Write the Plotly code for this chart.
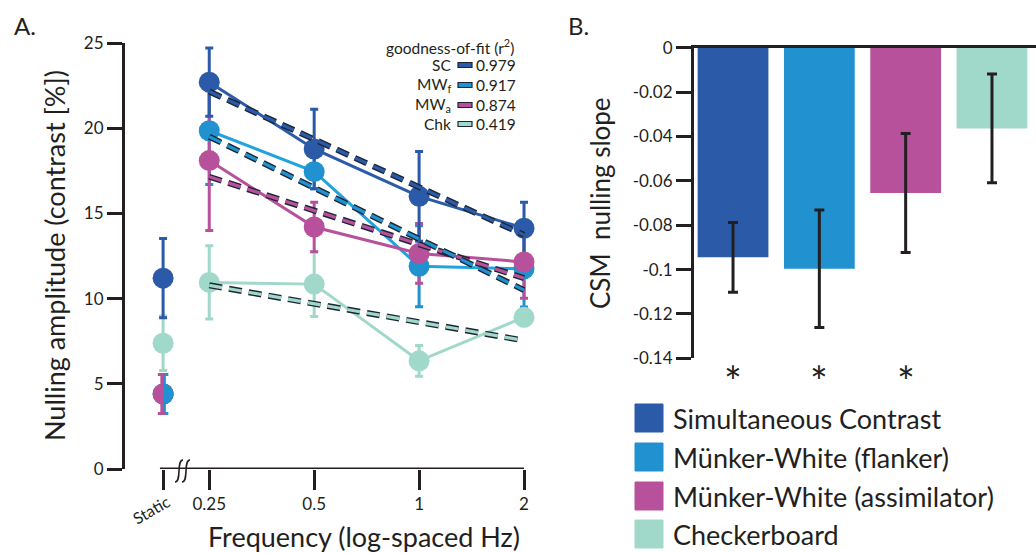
import math
import plotly.graph_objects as go

W, H = 1036, 553
INK = "#231f20"
FONT = "Lato"

def px(x):
    return x / W

def py(y):
    return 1 - y / H

# ---------------- data (panel A) ----------------
freq_labels = ["Static", "0.25", "0.5", "1", "2"]
freq_hz = [0.25, 0.5, 1, 2]
STATIC_POS = -2.44  # log2-position used for the static condition (left of 0.25 Hz)

series_names = ["SC", "MW<sub>f</sub>", "MW<sub>a</sub>", "Chk"]
sc_mean = [11.2, 22.7, 18.78, 16.0, 14.13]
sc_err = [2.33, 2.0, 2.33, 2.63, 1.52]
mwf_mean = [4.4, 19.85, 17.45, 11.9, 11.75]
mwf_err = [1.15, 3.15, 1.0, 2.38, 2.25]
mwa_mean = [4.4, 18.1, 14.2, 12.65, 12.15]
mwa_err = [1.15, 4.1, 1.45, 1.75, 2.13]
chk_mean = [7.38, 10.95, 10.85, 6.35, 8.9]
chk_err = [1.6, 2.15, 1.9, 0.9, 0.5]

# linear fits in log-frequency (value at 0.25 Hz and at 2 Hz)
fit_freqs = [0.25, 2]
sc_fit = [22.15, 13.74]
mwf_fit = [19.5, 10.5]
mwa_fit = [17.15, 11.2]
chk_fit = [10.78, 7.54]
r2_values = ["0.979", "0.917", "0.874", "0.419"]

# ---------------- data (panel B) ----------------
conditions = ["Simultaneous Contrast", "Münker-White (flanker)",
              "Münker-White (assimilator)", "Checkerboard"]
slopes = [-0.0945, -0.0996, -0.0655, -0.0364]
slope_err = [0.0157, 0.0265, 0.0268, 0.0245]
significant = [True, True, True, False]
slope_ticks = [0, -0.02, -0.04, -0.06, -0.08, -0.1, -0.12, -0.14]
slope_ticktext = ["0", "-0.02", "-0.04", "-0.06", "-0.08", "-0.1", "-0.12", "-0.14"]

C_SC = "#2b5ba8"
C_MWF = "#2191d0"
C_MWA = "#b8519b"
C_CHK = "#a0d8ca"
colors = [C_SC, C_MWF, C_MWA, C_CHK]
line_colors = [C_SC, "#22a3de", C_MWA, C_CHK]

xpos = [STATIC_POS] + [math.log2(f) for f in freq_hz]
means = [sc_mean, mwf_mean, mwa_mean, chk_mean]
errs = [sc_err, mwf_err, mwa_err, chk_err]
fits = [sc_fit, mwf_fit, mwa_fit, chk_fit]

fig = go.Figure()

draw_order = [3, 1, 2, 0]  # Chk, MWf, MWa, SC
# small horizontal nudge of the overlapping static error bars (MWa left, MWf right)
err_nudge = {1: 0.012, 2: -0.012}

# error bars
for i in draw_order:
    xs = list(xpos)
    if i in err_nudge:
        xs[0] = xs[0] + err_nudge[i]
    fig.add_trace(go.Scatter(
        x=xs, y=means[i], mode="markers",
        marker=dict(size=2, color=colors[i], opacity=0),
        error_y=dict(type="data", array=errs[i], color=colors[i],
                     thickness=3, width=4),
        xaxis="x", yaxis="y", showlegend=False, hoverinfo="skip"))

# connecting lines (frequency conditions only)
for i in draw_order:
    fig.add_trace(go.Scatter(
        x=xpos[1:], y=means[i][1:], mode="lines",
        line=dict(color=line_colors[i], width=3),
        xaxis="x", yaxis="y", showlegend=False, hoverinfo="skip"))

# markers
for i in draw_order:
    fig.add_trace(go.Scatter(
        x=xpos, y=means[i], mode="markers",
        marker=dict(size=21, color=colors[i], line=dict(width=0)),
        cliponaxis=False,
        xaxis="x", yaxis="y", showlegend=False, hoverinfo="skip"))

# fits: dark outlined dashes
fit_x = [math.log2(f) for f in fit_freqs]
for i in [3, 2, 1, 0]:
    fig.add_trace(go.Scatter(
        x=fit_x, y=fits[i], mode="lines",
        line=dict(color="#1d2535", width=6, dash="13px,7px"),
        xaxis="x", yaxis="y", showlegend=False, hoverinfo="skip"))
    fig.add_trace(go.Scatter(
        x=fit_x, y=fits[i], mode="lines",
        line=dict(color=colors[i], width=3.2, dash="13px,7px"),
        xaxis="x", yaxis="y", showlegend=False, hoverinfo="skip"))

# ---------------- panel B bars ----------------
fig.add_trace(go.Bar(
    x=conditions, y=slopes, marker=dict(color=colors, line=dict(width=0)),
    error_y=dict(type="data", array=slope_err, color=INK, thickness=3, width=5),
    xaxis="x2", yaxis="y2", showlegend=False, hoverinfo="skip"))

shapes = []
annotations = []

# x-axis line of panel A (static .. 2 Hz) with axis-break squiggle
shapes.append(dict(type="line", xref="x", yref="y", x0=STATIC_POS - 0.03, x1=xpos[-1],
                   y0=0, y1=0, line=dict(color=INK, width=3), layer="above"))
for dx in (-4, 3):
    shapes.append(dict(
        type="path", xref="paper", yref="paper", xsizemode="pixel", ysizemode="pixel",
        xanchor=px(183), yanchor=py(471),
        path=f"M {dx+4},11 C {dx-3},11 {dx+3},-11 {dx-4},-11",
        line=dict(color=INK, width=1.6), layer="above"))

# half-blue static marker (MWf shares the static value with MWa)
r = 10.5
k = 0.5523 * r
shapes.append(dict(
    type="path", xref="x", yref="y", xsizemode="pixel", ysizemode="pixel",
    xanchor=xpos[0], yanchor=mwf_mean[0],
    path=f"M 0,{-r} C {k},{-r} {r},{-k} {r},0 C {r},{k} {k},{r} 0,{r} Z",
    fillcolor=C_MWF, line=dict(width=0), layer="above"))

# panel A goodness-of-fit legend
LEG_FS = 15.5
annotations.append(dict(text="goodness-of-fit (r<sup>2</sup>)", xref="paper", yref="paper",
                        x=px(516), y=py(47), xanchor="right", yanchor="middle",
                        showarrow=False, font=dict(size=LEG_FS, color=INK, family=FONT)))
row_y = [65, 85, 105, 124]
for i in range(4):
    annotations.append(dict(text=series_names[i], xref="paper", yref="paper",
                            x=px(453), y=py(row_y[i]), xanchor="right", yanchor="middle",
                            showarrow=False, font=dict(size=LEG_FS, color=INK, family=FONT)))
    annotations.append(dict(text=r2_values[i], xref="paper", yref="paper",
                            x=px(474), y=py(row_y[i]), xanchor="left", yanchor="middle",
                            showarrow=False, font=dict(size=LEG_FS, color=INK, family=FONT)))
    shapes.append(dict(type="rect", xref="paper", yref="paper",
                       x0=px(458), x1=px(472), y0=py(row_y[i] + 2.5), y1=py(row_y[i] - 2.5),
                       fillcolor=colors[i], line=dict(color="#1d2535", width=1.2)))

# panel labels and axis titles
annotations += [
    dict(text="A.", x=px(12), y=py(26), xanchor="left", yanchor="middle",
         font=dict(size=24, color=INK, family=FONT)),
    dict(text="B.", x=px(566), y=py(26), xanchor="left", yanchor="middle",
         font=dict(size=24, color=INK, family=FONT)),
    dict(text="Nulling amplitude (contrast [%])", x=px(55), y=py(256), textangle=-90,
         xanchor="center", yanchor="middle", font=dict(size=27, color=INK, family=FONT)),
    dict(text="Frequency (log-spaced Hz)", x=px(364), y=py(536), xanchor="center",
         yanchor="middle", font=dict(size=27, color=INK, family=FONT)),
    dict(text=freq_labels[0], x=px(151), y=py(509), textangle=-30, xanchor="center",
         yanchor="middle", font=dict(size=16, color=INK, family=FONT)),
    dict(text="CSM\u00a0 nulling slope", x=px(600), y=py(203), textangle=-90,
         xanchor="center", yanchor="middle", font=dict(size=26, color=INK, family=FONT)),
]
for a in annotations:
    a.setdefault("xref", "paper")
    a.setdefault("yref", "paper")
    a.setdefault("showarrow", False)

# significance asterisks
for c, sig in zip(conditions, significant):
    if sig:
        annotations.append(dict(text="*", x=c, y=slope_ticks[-1], xref="x2", yref="y2",
                                xanchor="center", yanchor="top", yshift=4, showarrow=False,
                                font=dict(size=42, color=INK, family=FONT)))

# panel B legend
leg_y = [418, 457, 496, 534]
for i, name in enumerate(conditions):
    shapes.append(dict(type="rect", xref="paper", yref="paper",
                       x0=px(635), x1=px(663), y0=py(leg_y[i] + 14), y1=py(leg_y[i] - 14),
                       fillcolor=colors[i], line=dict(color=colors[i], width=1)))
    annotations.append(dict(text=name, xref="paper", yref="paper", x=px(671), y=py(leg_y[i]),
                            xanchor="left", yanchor="middle", showarrow=False,
                            font=dict(size=27, color=INK, family=FONT)))

axis_common = dict(showgrid=False, zeroline=False, tickcolor=INK, automargin=False,
                   tickfont=dict(size=17, color=INK, family=FONT))

fig.update_layout(
    width=W, height=H, margin=dict(l=0, r=0, t=0, b=0, pad=0, autoexpand=False),
    paper_bgcolor="white", plot_bgcolor="white",
    font=dict(family=FONT, color=INK),
    bargap=0.18,
    xaxis=dict(domain=[px(125), px(545)], range=[-2.803, 1.2], anchor="y",
               showline=False, ticks="outside", ticklen=20, tickwidth=3,
               tickvals=xpos, ticktext=[""] + freq_labels[1:], **axis_common),
    yaxis=dict(domain=[py(469), py(43)], range=[0, 25], anchor="x",
               showline=True, linewidth=3, linecolor=INK, ticks="outside",
               ticklen=15, tickwidth=3, tickvals=[0, 5, 10, 15, 20, 25], **axis_common),
    xaxis2=dict(domain=[px(694), 1.0], type="category", range=[-0.452, 3.51], anchor="y2",
                side="top", showline=True, linewidth=3, linecolor=INK, ticks="",
                showticklabels=False, **axis_common),
    yaxis2=dict(domain=[py(358.3), py(47.7)], range=[-0.14, 0], anchor="x2",
                showline=True, linewidth=3, linecolor=INK, ticks="outside", ticklen=15,
                tickwidth=3, tickvals=slope_ticks, ticktext=slope_ticktext, **axis_common),
    shapes=shapes, annotations=annotations,
)

fig.write_html("out.html", config={"displayModeBar": False},
               post_script="document.body.style.margin='0';document.body.style.overflow='hidden';")
